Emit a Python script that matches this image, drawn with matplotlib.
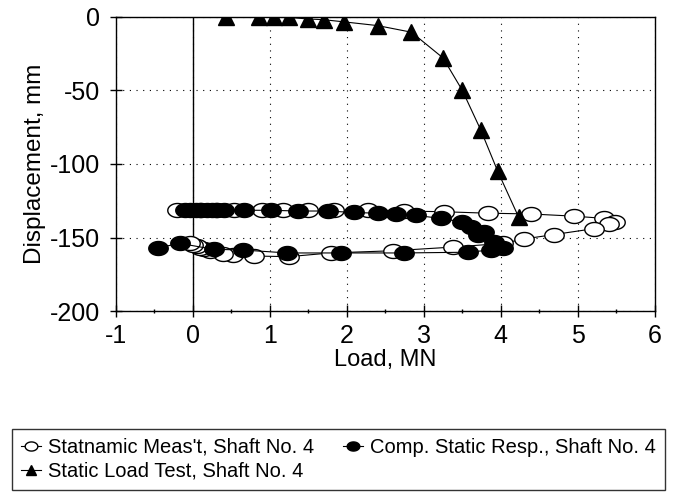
import numpy as np
import matplotlib
matplotlib.use("Agg")
import matplotlib.pyplot as plt
from matplotlib.path import Path
from matplotlib.ticker import MultipleLocator

plt.rcParams["font.family"] = ["Liberation Sans", "DejaVu Sans"]
plt.rcParams["axes.unicode_minus"] = False

# Statnamic measurement (open circles), loading then unloading
stat_x = [-0.2, 0.1, 0.3, 0.53, 0.9, 1.17, 1.49, 1.83, 2.27, 2.74, 3.26, 3.84,
          4.39, 4.95, 5.34, 5.48, 5.4, 5.21, 4.69, 4.3, 4.03, 3.38, 2.6, 1.79,
          1.25, 0.79, 0.52, 0.39, 0.22, 0.15, 0.1, 0.05, 0.0, -0.04]
stat_y = [-131, -131, -131, -131, -131.5, -131, -131, -131.5, -131.5, -132, -132.5, -133.5,
          -134, -135.5, -137, -139.5, -141, -144, -148, -151, -154, -156.5, -159, -160.5,
          -163, -162.6, -162, -161, -159, -158, -157, -156, -155, -154]

# Computed static response (filled circles)
comp_x = [-0.1, -0.03, 0.04, 0.11, 0.18, 0.25, 0.32, 0.4, 0.67, 1.01, 1.36, 1.75,
          2.09, 2.4, 2.64, 2.9, 3.22, 3.5, 3.61, 3.78, 3.71, 3.91, 4.03, 3.87,
          3.57, 2.74, 1.92, 1.23, 0.65, 0.27, -0.17, -0.45]
comp_y = [-131, -131, -131, -131, -131, -131, -131, -131, -131.5, -131.5, -132, -132,
          -133, -133.5, -134, -135, -137, -139.5, -143, -146, -148.5, -153, -157, -158.5,
          -160, -160.5, -160.5, -160.5, -158.5, -158, -154, -157]

# Static load test (triangles)
slt_x = [0.43, 0.86, 1.05, 1.25, 1.5, 1.7, 1.97, 2.4, 2.84, 3.25, 3.5, 3.74, 3.96, 4.23]
slt_y = [0, 0, -0.5, -0.5, -1.5, -2, -3.5, -6, -10.5, -28, -50, -77, -105, -136]

# slightly flattened circle marker, like the scanned original
t = np.linspace(0, 2 * np.pi, 61)
ellipse = Path(np.column_stack([np.cos(t), 0.72 * np.sin(t)]), closed=True)

fig = plt.figure(figsize=(6.73, 4.93), dpi=100)
ax = fig.add_axes([0.172, 0.369, 0.801, 0.597])

ax.plot(stat_x, stat_y, color="black", lw=0.8, marker=ellipse, ms=14,
        mfc="white", mec="black", mew=1.0, label="Statnamic Meas't, Shaft No. 4", zorder=3)
ax.plot(comp_x, comp_y, color="black", lw=0.8, marker=ellipse, ms=14,
        mfc="black", mec="black", label="Comp. Static Resp., Shaft No. 4", zorder=4)
ax.plot(slt_x, slt_y, color="black", lw=0.8, marker="^", ms=11,
        mfc="black", mec="black", label="Static Load Test, Shaft No. 4", zorder=5)

ax.axvline(0, color="black", lw=1.0, zorder=2)

ax.set_xlim(-1, 6)
ax.set_ylim(-200, 0)
ax.xaxis.set_major_locator(MultipleLocator(1))
ax.xaxis.set_minor_locator(MultipleLocator(0.5))
ax.yaxis.set_major_locator(MultipleLocator(50))
ax.grid(True, which="major", color="black", linestyle=(0, (1, 5)), lw=0.8)
ax.tick_params(which="major", direction="inout", length=8, width=1, labelsize=18)
ax.tick_params(axis="y", pad=7)
ax.tick_params(axis="x", pad=5)
ax.tick_params(which="minor", direction="inout", length=3, width=1)
ax.tick_params(axis="y", which="minor", left=False)
for s in ax.spines.values():
    s.set_linewidth(1.0)

ax.set_xlabel("Load, MN", fontsize=17, labelpad=1)
ax.set_ylabel("Displacement, mm", fontsize=17.5, labelpad=3)

h, l = ax.get_legend_handles_labels()
order = [0, 2, 1]
leg = fig.legend([h[i] for i in order], [l[i] for i in order], ncol=2,
                 loc="lower left", bbox_to_anchor=(0.018, 0.006, 0.97, 0.118),
                 mode="expand", fontsize=14.5, frameon=True, fancybox=False,
                 edgecolor="black", handlelength=1.0, handletextpad=0.35,
                 borderpad=0.45, labelspacing=0.25, columnspacing=1.0,
                 markerscale=0.65, borderaxespad=0)
leg.get_frame().set_linewidth(1.0)

fig.savefig("out.png", dpi=100)
